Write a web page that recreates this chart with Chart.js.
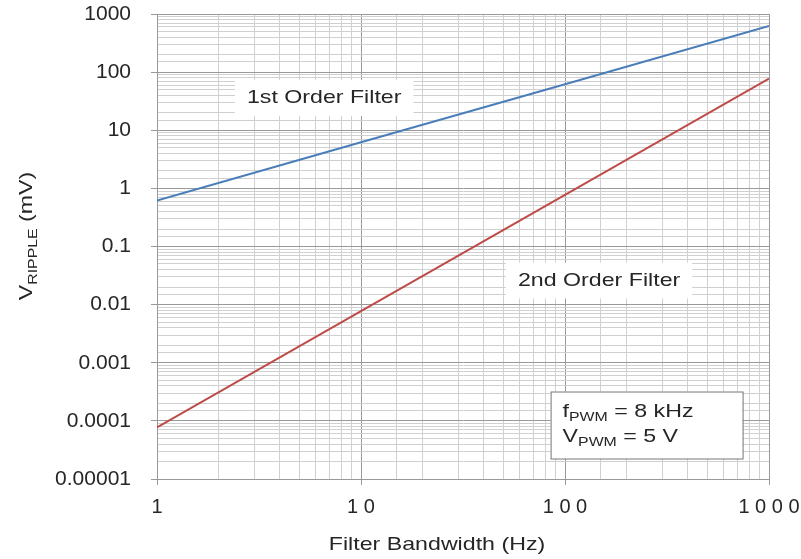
<!DOCTYPE html>
<html>
<head>
<meta charset="utf-8">
<script src="https://cdn.jsdelivr.net/npm/chart.js@4.4.1/dist/chart.umd.min.js"></script>
<style>
  html, body { margin: 0; padding: 0; background: #fff; }
  #wrap { width: 801px; height: 559px; }
</style>
</head>
<body>
<div id="wrap"><canvas id="ripple-chart" width="801" height="559"></canvas></div>
<script>
// values
const bandwidthHz = [1, 10, 100, 1000];
const firstOrderMv = [0.62, 6.2, 62, 620];
const secondOrderMv = [0.000077, 0.0077, 0.77, 77];
const yTickLabels = ['0.00001', '0.0001', '0.001', '0.01', '0.1', '1', '10', '100', '1000'];
const xTickLabels = ['1', '1 0', '1 0 0', '1 0 0 0'];

// text notes placed in data coordinates
const curveNotes = [
    { text: '1st Order Filter', x: 6.6, y: 36 },
    { text: '2nd Order Filter', x: 147, y: 0.026 }
];
const conditionBox = { x: 85, y: 0.00032 }; // top-left corner of the box

const FONT = '"Liberation Sans", Arial, sans-serif';
const TEXT_COLOR = '#262626';
const STRETCH = 1.22; // the source text is a bit wider than Arial

function isDecade(v) {
    const l = Math.log10(v);
    return Math.abs(l - Math.round(l)) < 1e-6;
}

// main + subscript + rest, left aligned at 0, baseline 0 (in a stretched frame)
function drawSub(ctx, main, sub, rest, size) {
    ctx.font = size + 'px ' + FONT;
    const w1 = ctx.measureText(main).width;
    ctx.fillText(main, 0, 0);
    ctx.font = Math.round(size * 0.7) + 'px ' + FONT;
    const w2 = ctx.measureText(sub).width;
    ctx.fillText(sub, w1, size * 0.25);
    ctx.font = size + 'px ' + FONT;
    ctx.fillText(rest, w1 + w2, 0);
}

function subWidth(ctx, main, sub, rest, size) {
    ctx.font = size + 'px ' + FONT;
    let w = ctx.measureText(main).width + ctx.measureText(rest).width;
    ctx.font = Math.round(size * 0.7) + 'px ' + FONT;
    return w + ctx.measureText(sub).width;
}

const notesPlugin = {
    id: 'notes',
    afterDatasetsDraw(chart) {
        const ctx = chart.ctx;
        const xs = chart.scales.x, ys = chart.scales.y;
        const area = chart.chartArea;
        ctx.save();
        ctx.textBaseline = 'middle';
        ctx.textAlign = 'center';
        ctx.font = '19px ' + FONT;
        curveNotes.forEach(n => {
            const px = xs.getPixelForValue(n.x);
            const py = ys.getPixelForValue(n.y);
            const w = ctx.measureText(n.text).width * STRETCH + 24;
            const h = 36;
            ctx.fillStyle = '#fff';
            ctx.fillRect(px - w / 2, py - h / 2, w, h);
            ctx.fillStyle = TEXT_COLOR;
            ctx.save();
            ctx.translate(px, py);
            ctx.scale(STRETCH, 1);
            ctx.fillText(n.text, 0, 0);
            ctx.restore();
        });

        // operating conditions box
        const bx = xs.getPixelForValue(conditionBox.x);
        const by = ys.getPixelForValue(conditionBox.y);
        ctx.textAlign = 'left';
        ctx.textBaseline = 'alphabetic';
        const bw = 192, bh = 67;
        ctx.fillStyle = '#fff';
        ctx.fillRect(bx, by, bw, bh);
        ctx.strokeStyle = '#777';
        ctx.lineWidth = 1;
        ctx.strokeRect(bx + 0.5, by + 0.5, bw, bh);
        ctx.fillStyle = TEXT_COLOR;
        [['f', ' = 8 kHz', 25], ['V', ' = 5 V', 50]].forEach(([m, r, dy]) => {
            ctx.save();
            ctx.translate(bx + 12, by + dy);
            ctx.scale(STRETCH, 1);
            drawSub(ctx, m, 'PWM', r, 19);
            ctx.restore();
        });

        // y axis title with subscript, rotated
        const tw = subWidth(ctx, 'V', 'RIPPLE', ' (mV)', 19) * STRETCH;
        ctx.save();
        ctx.translate(32, 236);
        ctx.rotate(-Math.PI / 2);
        ctx.translate(-tw / 2, 0);
        ctx.scale(STRETCH, 1);
        drawSub(ctx, 'V', 'RIPPLE', ' (mV)', 19);
        ctx.restore();

        // x axis title
        ctx.save();
        ctx.textAlign = 'center';
        ctx.textBaseline = 'middle';
        ctx.font = '19px ' + FONT;
        ctx.translate(437, 545);
        ctx.scale(STRETCH, 1);
        ctx.fillText('Filter Bandwidth (Hz)', 0, 0);
        ctx.restore();
        ctx.restore();
    }
};

function gridColor(c) {
    if (!c.tick) return '#c8c8c8';
    return isDecade(c.tick.value) ? '#999' : '#d0d0d0';
}
function tickMarkColor(c) {
    if (!c.tick) return 'transparent';
    return isDecade(c.tick.value) ? '#999' : 'transparent';
}

new Chart(document.getElementById('ripple-chart'), {
    type: 'scatter',
    data: {
        datasets: [{
            label: '1st Order Filter',
            data: bandwidthHz.map((f, i) => ({ x: f, y: firstOrderMv[i] })),
            showLine: true,
            borderColor: '#4a7ebb',
            borderWidth: 2,
            pointRadius: 0
        }, {
            label: '2nd Order Filter',
            data: bandwidthHz.map((f, i) => ({ x: f, y: secondOrderMv[i] })),
            showLine: true,
            borderColor: '#be4b48',
            borderWidth: 2,
            pointRadius: 0
        }]
    },
    options: {
        responsive: false,
        animation: false,
        layout: { padding: { top: 14, right: 32, left: 0, bottom: 0 } },
        plugins: {
            legend: { display: false },
            tooltip: { enabled: false }
        },
        scales: {
            x: {
                type: 'logarithmic',
                min: 1,
                max: 1000,
                border: { color: '#999' },
                grid: { color: gridColor, tickColor: tickMarkColor, tickLength: 6 },
                ticks: {
                    autoSkip: false,
                    maxRotation: 0,
                    padding: 10,
                    color: TEXT_COLOR,
                    font: { family: FONT, size: 20 },
                    callback: v => isDecade(v) ? xTickLabels[Math.round(Math.log10(v))] : ''
                },
                afterFit: s => { s.height = 80; s.paddingLeft = 0; s.paddingRight = 0; }
            },
            y: {
                type: 'logarithmic',
                min: 0.00001,
                max: 1000,
                border: { color: '#999' },
                grid: { color: gridColor, tickColor: tickMarkColor, tickLength: 6 },
                ticks: {
                    autoSkip: false,
                    padding: 20,
                    color: TEXT_COLOR,
                    font: { family: FONT, size: 21 },
                    callback: v => isDecade(v) ? yTickLabels[Math.round(Math.log10(v)) + 5] : ''
                },
                afterFit: s => { s.width = 157; s.paddingTop = 0; s.paddingBottom = 0; }
            }
        }
    },
    plugins: [notesPlugin]
});
</script>
</body>
</html>
